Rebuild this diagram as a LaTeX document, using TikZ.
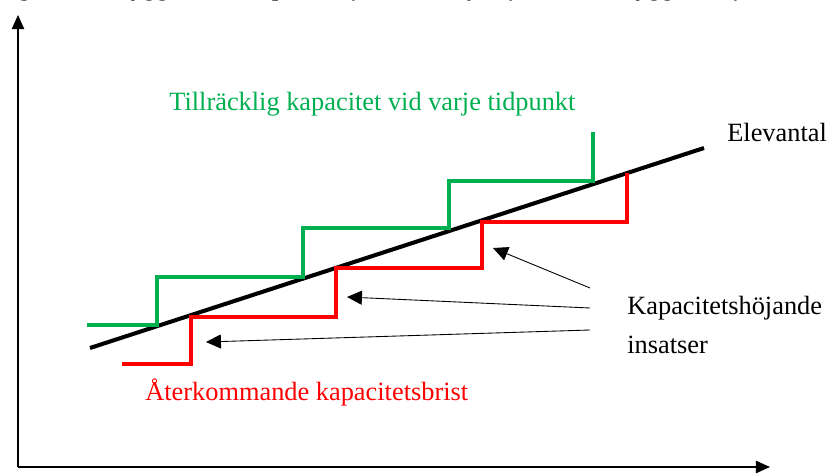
\documentclass[tikz,border=0pt]{standalone}
\usepackage{fontspec}
\setmainfont{Liberation Serif}
\usetikzlibrary{arrows.meta}
\definecolor{grn}{RGB}{0,176,80}
\definecolor{rd}{RGB}{255,0,0}
\tikzset{
	axel/.style={black, line width=0.8pt, -{Triangle[length=8pt,width=7pt]}},
	pil/.style={black, line width=0.5pt, -{Triangle[length=8.5pt,width=8pt]}},
	trappa/.style={line width=2pt},
	etikett/.style={font=\fontsize{15}{18}\selectfont, anchor=base west}
}
\begin{document}
\begin{tikzpicture}[scale=0.2]
		\tikzstyle{every node}+=[inner sep=0pt]
		\useasboundingbox (0,0) rectangle (82.8,-47.5);
		\begin{scope}
		\clip (0,0) rectangle (82.8,-47.5);
		\draw (-0.4,0.5) node[etikett, font=\fontsize{15}{18}\selectfont\itshape] (rubrik) {Figur 1: Utbyggnad av kapacitet före behov jämfört med utbyggnad efter behov};
		\end{scope}
		% axlar
		\coordinate (o) at (1.8,-46.7);
		\coordinate (ytopp) at (1.8,-1.5);
		\coordinate (xslut) at (77.0,-46.7);
		\draw [axel] (o) -- (ytopp);
		\draw [axel] (o) -- (xslut);
		% elevantal
		\draw [black, line width=2.3pt] (9.0,-34.8) -- (70.4,-14.8);
		\draw (72.7,-14.1) node[etikett] (elevantal) {Elevantal};
		% kapacitet
		\draw [grn, trappa] (8.7,-32.5) -- (15.7,-32.5) -- (15.7,-27.7) -- (30.3,-27.7) -- (30.3,-22.8) -- (44.9,-22.8) -- (44.9,-18.1) -- (59.3,-18.1) -- (59.3,-13.2);
		\draw [rd, trappa] (12.2,-36.4) -- (19.1,-36.4) -- (19.1,-31.7) -- (33.6,-31.7) -- (33.6,-26.8) -- (48.2,-26.8) -- (48.2,-22.2) -- (62.7,-22.2) -- (62.7,-17.3);
		\draw (16.9,-11.07) node[etikett, text=grn] (tillracklig) {Tillräcklig kapacitet vid varje tidpunkt};
		\draw (14.5,-40.07) node[etikett, text=rd] (brist) {Återkommande kapacitetsbrist};
		% insatser
		\draw (62.7,-31.4) node[etikett] (hojande) {Kapacitetshöjande};
		\draw (62.7,-35.3) node[etikett] (insatser) {insatser};
		\coordinate (k1) at (59.0,-28.8);
		\coordinate (k2) at (59.0,-30.8);
		\coordinate (k3) at (59.0,-33.0);
		\coordinate (t1) at (49.3,-24.8);
		\coordinate (t2) at (34.7,-29.7);
		\coordinate (t3) at (20.6,-34.2);
		\draw [pil] (k1) -- (t1);
		\draw [pil] (k2) -- (t2);
		\draw [pil] (k3) -- (t3);
	\end{tikzpicture}
\end{document}
